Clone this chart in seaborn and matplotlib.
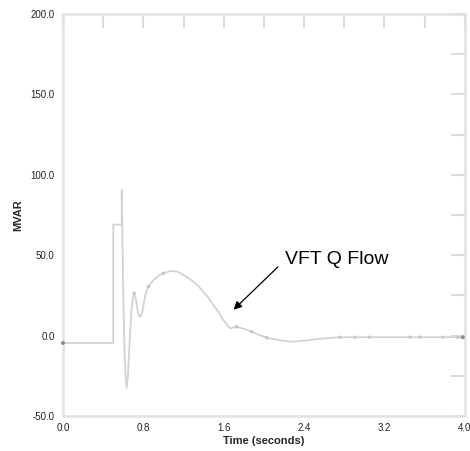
import matplotlib
matplotlib.use("Agg")
import matplotlib.pyplot as plt
import seaborn as sns
import pandas as pd
from matplotlib.ticker import MultipleLocator, FuncFormatter

sns.set_theme(style="white")
plt.rcParams['font.family'] = ['Liberation Sans', 'DejaVu Sans']

# VFT reactive power flow trace
time_s = [0.0, 0.5, 0.5, 0.585, 0.585, 0.592, 0.60, 0.612, 0.624, 0.634,
          0.645, 0.66, 0.68, 0.695, 0.709, 0.725, 0.745, 0.76, 0.773, 0.79,
          0.81, 0.83, 0.849, 0.90, 0.95, 0.998, 1.05, 1.098, 1.15, 1.197,
          1.25, 1.297, 1.35, 1.396, 1.45, 1.496, 1.55, 1.595, 1.662, 1.70,
          1.728, 1.80, 1.878, 1.95, 2.027, 2.15, 2.276, 2.40, 2.55, 2.756,
          3.0, 3.5, 4.0]
mvar = [-4.6, -4.6, 69.0, 69.0, 90.5, 60.0, 25.0, -8.0, -27.0, -32.6,
        -26.0, -8.0, 14.0, 23.5, 26.3, 23.0, 15.0, 12.0, 11.8, 15.0,
        22.0, 27.5, 30.4, 34.5, 37.2, 38.7, 39.8, 40.2, 39.5, 37.7,
        35.8, 33.5, 30.6, 27.3, 23.4, 19.0, 14.5, 9.7, 4.5, 5.0,
        5.5, 4.2, 2.4, 0.5, -1.3, -2.8, -3.8, -3.2, -2.0, -1.05,
        -1.0, -1.0, -1.0]

# small plotted sample markers along the trace
marker_t = [0.709, 0.849, 0.998, 1.728, 1.878, 2.027, 2.756, 2.905,
            3.048, 3.453, 3.552, 3.78, 3.93]
marker_v = [26.3, 30.4, 38.7, 5.5, 2.4, -1.3, -1.05, -1.0,
            -1.0, -1.0, -1.0, -1.0, -1.0]
# darker end points
end_t = [0.0, 3.98]
end_v = [-4.6, -1.0]

df = pd.DataFrame({"Time": time_s, "MVAR": mvar})
pts = pd.DataFrame({"Time": marker_t, "MVAR": marker_v})
ends = pd.DataFrame({"Time": end_t, "MVAR": end_v})

fig = plt.figure(figsize=(4.7, 4.51), dpi=100)
ax = fig.add_axes([0.134, 0.0776, 0.855, 0.8914])

sns.lineplot(data=df, x="Time", y="MVAR", sort=False, estimator=None,
             color="#d3d3d3", linewidth=1.3, ax=ax)
sns.scatterplot(data=pts, x="Time", y="MVAR", color="#c4c4c4", s=6,
                edgecolor="none", ax=ax, zorder=3)
sns.scatterplot(data=ends, x="Time", y="MVAR", color="#8a8a8a", s=8,
                edgecolor="none", ax=ax, zorder=3, clip_on=False)

ax.set_xlim(0, 4.0)
ax.set_ylim(-50, 200)
ax.xaxis.set_major_locator(MultipleLocator(0.4))
ax.yaxis.set_major_locator(MultipleLocator(25))
ax.xaxis.set_major_formatter(FuncFormatter(
    lambda v, p: f"{v:.1f}" if round(v / 0.4) % 2 == 0 else ""))
ax.yaxis.set_major_formatter(FuncFormatter(
    lambda v, p: f"{v:.1f}" if round(v / 25) % 2 == 0 else ""))

ax.tick_params(direction="in", length=10, width=1.5, color="#dcdcdc",
               labelsize=7, top=True, right=True, labelcolor="#222222")
ax.tick_params(axis="y", pad=6)
ax.tick_params(axis="x", pad=5)
for sp in ax.spines.values():
    sp.set_color("#e2e2e2")
    sp.set_linewidth(1.8)

ax.set_xlabel("Time (seconds)", fontsize=8, fontweight="bold", labelpad=2)
ax.set_ylabel("MVAR", fontsize=8, fontweight="bold", labelpad=5)

ax.annotate("", xy=(1.678, 14.9), xytext=(2.159, 43.9),
            arrowprops=dict(arrowstyle="-|>", color="black", lw=0.9,
                            mutation_scale=12))
ax.text(2.209, 47.6, "VFT Q Flow", fontsize=14, ha="left", va="center",
        color="black")

fig.savefig("out.png", dpi=100)
